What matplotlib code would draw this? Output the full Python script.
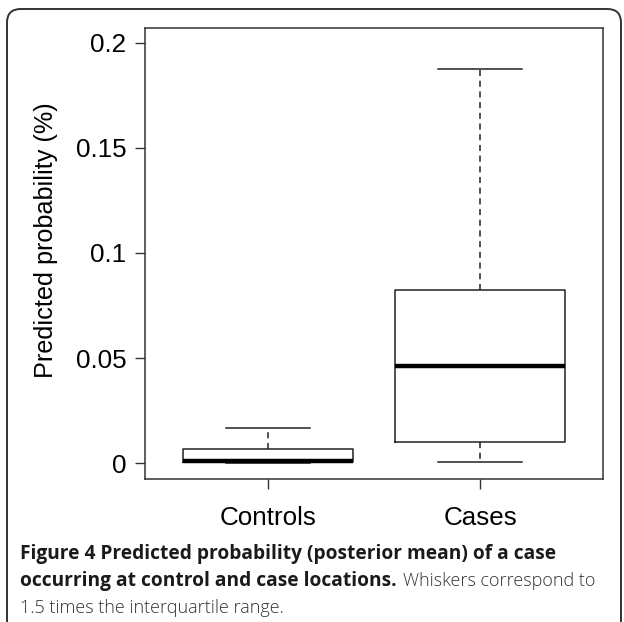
import matplotlib
matplotlib.use("Agg")
import matplotlib.pyplot as plt
from matplotlib.patches import FancyBboxPatch

# box statistics
groups = ["Controls", "Cases"]
whislo = [0.0, 0.0003]
q1 = [0.0003, 0.0100]
med = [0.0010, 0.0462]
q3 = [0.0067, 0.0824]
whishi = [0.0167, 0.1876]

yticks = [0, 0.05, 0.1, 0.15, 0.2]
ytick_labels = ["0", "0.05", "0.1", "0.15", "0.2"]

W, H = 624, 622
fig = plt.figure(figsize=(W / 100, H / 100), dpi=100)

# rounded frame round the whole figure (runs off the bottom edge)
frame = FancyBboxPatch((7 / W, -0.05), 614 / W, 1 - 9 / H + 0.05,
                       boxstyle="round,pad=0,rounding_size=0.022",
                       transform=fig.transFigure, fill=False,
                       edgecolor="#333333", linewidth=1.4)
fig.patches.append(frame)

ax = fig.add_axes([145 / W, 1 - 479 / H, 458 / W, 451 / H])

stats = []
for i in range(len(groups)):
    stats.append({"whislo": whislo[i], "q1": q1[i], "med": med[i],
                  "q3": q3[i], "whishi": whishi[i], "fliers": [],
                  "label": groups[i]})

ax.bxp(stats, positions=[1, 2], widths=0.8, capwidths=0.4,
       showfliers=False,
       boxprops=dict(color="#222222", linewidth=1.1),
       medianprops=dict(color="black", linewidth=3.2, solid_capstyle="butt"),
       whiskerprops=dict(color="#222222", linewidth=1.1, linestyle=(0, (4, 3))),
       capprops=dict(color="#222222", linewidth=1.1))

ax.set_xlim(0.42, 2.58)
ax.set_ylim(-0.0076, 0.2071)
ax.set_yticks(yticks)
ax.set_yticklabels(ytick_labels)
ax.set_xticks([1, 2])
ax.set_xticklabels(groups)

for lbl in ax.get_xticklabels() + ax.get_yticklabels():
    lbl.set_fontfamily("Liberation Sans")
    lbl.set_fontsize(18.7)
ax.tick_params(axis="both", direction="out", length=7.5, width=1, color="#333333")
ax.tick_params(axis="y", pad=6)
ax.tick_params(axis="x", pad=12)
for s in ax.spines.values():
    s.set_color("#333333")
    s.set_linewidth(1.1)

ax.set_ylabel("Predicted probability (%)", family="Liberation Sans", size=18.2,
              va="center")
ax.yaxis.set_label_coords((46 - 145) / 458, (479 - 240) / 451)

# caption with mixed bold / regular text
cap_font = "Open Sans"
x0 = 20 / W
fig.text(x0, 1 - 559 / H, "Figure 4 Predicted probability (posterior mean) of a case",
         fontfamily=cap_font, fontsize=13.8, fontweight="bold", va="baseline",
         color="#1a1a1a")
bold2 = fig.text(x0, 1 - 586 / H, "occurring at control and case locations.",
                 fontfamily=cap_font, fontsize=13.8, fontweight="bold",
                 va="baseline", color="#1a1a1a")
fig.canvas.draw()
bb = bold2.get_window_extent(fig.canvas.get_renderer())
fig.text(bb.x1 / W + 6 / W, 1 - 586 / H, "Whiskers correspond to",
         fontfamily=cap_font, fontsize=13, fontweight="light", va="baseline",
         color="#333333")
fig.text(x0, 1 - 613 / H, "1.5 times the interquartile range.",
         fontfamily=cap_font, fontsize=13, fontweight="light", va="baseline",
         color="#333333")

fig.savefig("out.png", dpi=100)
